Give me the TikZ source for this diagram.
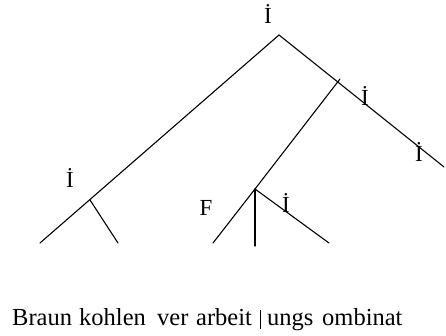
\documentclass[tikz,border=0pt]{standalone}
\usepackage{fontspec}
\setmainfont{Liberation Serif}
\begin{document}
\begin{tikzpicture}[x=1pt,y=-1pt,
  edge/.style={line width=1.1pt, line cap=round},
  lab/.style={font=\fontsize{23}{23}\selectfont, inner sep=0pt, anchor=base},
  word/.style={font=\fontsize{24.5}{24.5}\selectfont, inner sep=0pt, anchor=base west}]
\useasboundingbox (0,0) rectangle (446,336);
% tree points
\coordinate (root) at (279,35);
\coordinate (ll) at (40,243);
\coordinate (a) at (90,200);
\coordinate (ar) at (118,243);
\coordinate (rr) at (444,167);
\coordinate (b) at (340,79);
\coordinate (c) at (255,189);
\coordinate (c1) at (213,243);
\coordinate (c2) at (255,246);
\coordinate (c3) at (329,243);
\draw[edge] (ll) -- (root) -- (rr);
\draw[edge] (a) -- (ar);
\draw[edge] (b) -- (c);
\draw[edge] (c) -- (c1);
\draw[edge] (c) -- (c2);
\draw[edge] (c) -- (c3);
% labels
\node[lab] (l0) at (268,24) {İ};
\node[lab] (l1) at (70,188) {İ};
\node[lab] (l2) at (206,215) {F};
\node[lab] (l3) at (286,213) {İ};
\node[lab] (l4) at (365,106) {İ};
\node[lab] (l5) at (419,162) {İ};
% bottom text
\node[word] (w1) at (12,325) {Braun};
\node[word] (w2) at (79,325) {kohlen};
\node[word] (w3) at (157,325) {ver};
\node[word] (w4) at (196,325) {arbeit};
\node[word] (w5) at (267,325) {ungs};
\node[word] (w6) at (322,325) {ombinat};
\coordinate (bt) at (260,310);
\coordinate (bb) at (260,329);
\draw[line width=0.7pt] (bt) -- (bb);
\end{tikzpicture}
\end{document}
